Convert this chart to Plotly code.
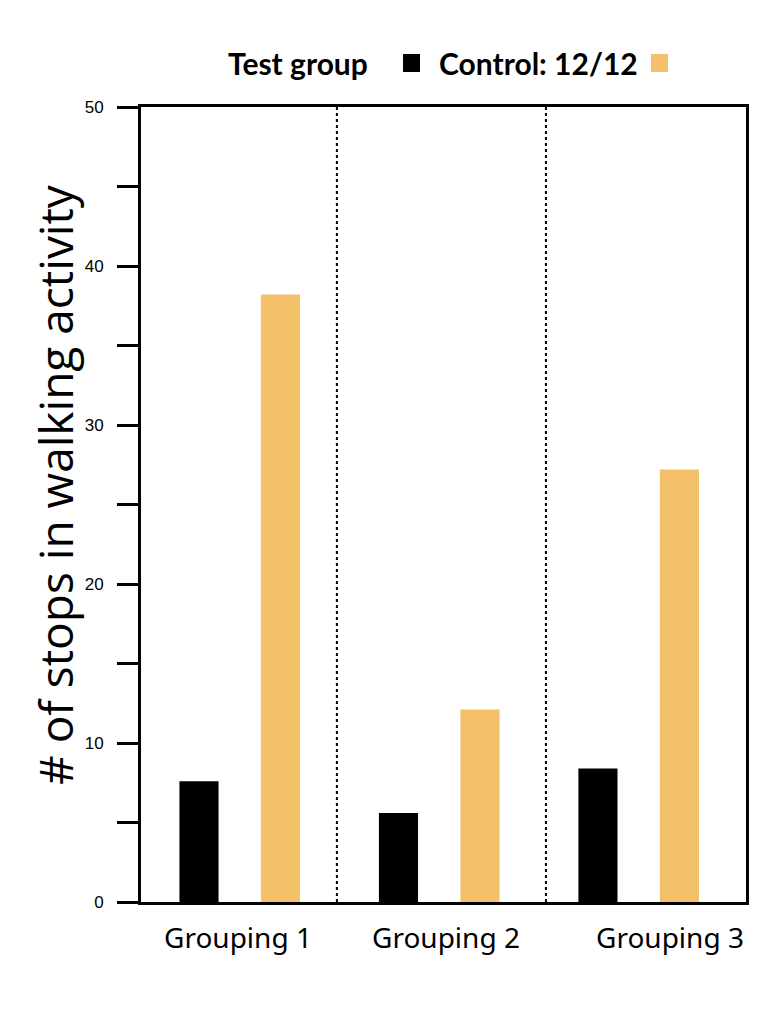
import plotly.graph_objects as go

categories = ["Grouping 1", "Grouping 2", "Grouping 3"]
test_values = [7.6, 5.6, 8.4]
control_values = [38.2, 12.1, 27.2]
series_names = ["Test group", "Control: 12/12"]
y_title = "# of stops in walking activity"
y_tickvals = [0, 5, 10, 15, 20, 25, 30, 35, 40, 45, 50]
y_ticktext = ["0", "", "10", "", "20", "", "30", "", "40", "", "50"]

BLACK = "#000000"
YELLOW = "#F4C06A"

fig = go.Figure()
fig.add_trace(go.Bar(x=categories, y=test_values, name=series_names[0],
                     marker=dict(color=BLACK, line=dict(width=0))))
fig.add_trace(go.Bar(x=categories, y=control_values, name=series_names[1],
                     marker=dict(color=YELLOW, line=dict(width=0))))

# dotted separators between groups
for xv in [0.487, 1.535]:
    fig.add_shape(type="line", xref="x", yref="paper", x0=xv, x1=xv, y0=0, y1=1,
                  line=dict(color=BLACK, width=2, dash="dot"))

# x labels as annotations
xshifts = [-2, 7, 31]
for cat, xs in zip(categories, xshifts):
    fig.add_annotation(x=cat, y=0, xref="x", yref="y", text=cat, showarrow=False,
                       yanchor="top", yshift=-14, xshift=xs,
                       font=dict(family="Noto Sans", size=28, color=BLACK))

W, H = 782, 1015
L, R, T, B = 141, 36, 107, 113
pw, ph = W - L - R, H - T - B

def px(xp):
    return (xp - L) / pw

def py(yp):
    return (H - B - yp) / ph

# y axis title
fig.add_annotation(x=px(55), y=py(485), xref="paper", yref="paper", text=y_title,
                   textangle=-90, showarrow=False, xanchor="center", yanchor="middle",
                   font=dict(family="Open Sans", size=46, color=BLACK))

# legend (text followed by swatch)
leg_font = dict(family="Lato", size=30, color=BLACK)
fig.add_annotation(x=px(226), y=py(63), xref="paper", yref="paper", text="<b>" + series_names[0] + "</b>",
                   showarrow=False, xanchor="left", yanchor="middle", font=leg_font)
fig.add_annotation(x=px(437), y=py(63), xref="paper", yref="paper", text="<b>" + series_names[1] + "</b>",
                   showarrow=False, xanchor="left", yanchor="middle", font=leg_font)

for x0, col in [(403, BLACK), (651, YELLOW)]:
    fig.add_shape(type="rect", xref="paper", yref="paper",
                  x0=px(x0), x1=px(x0 + 17), y0=py(72), y1=py(54),
                  fillcolor=col, line=dict(width=0))

fig.update_layout(
    width=W, height=H,
    margin=dict(l=L, r=R, t=T, b=B),
    plot_bgcolor="white", paper_bgcolor="white",
    showlegend=False,
    barmode="group", bargap=0.183, bargroupgap=0.52,
    xaxis=dict(range=[-0.495, 2.538], showticklabels=False, ticks="",
               showline=True, linecolor=BLACK, linewidth=3, mirror=True,
               showgrid=False, zeroline=False),
    yaxis=dict(range=[0, 50], tickvals=y_tickvals, ticktext=y_ticktext,
               ticks="outside", ticklen=21, tickwidth=3, tickcolor=BLACK,
               ticklabelstandoff=10,
               showline=True, linecolor=BLACK, linewidth=3, mirror=True,
               showgrid=False, zeroline=False,
               tickfont=dict(family="Liberation Sans", size=17, color=BLACK)),
)

fig.write_html("out.html")
